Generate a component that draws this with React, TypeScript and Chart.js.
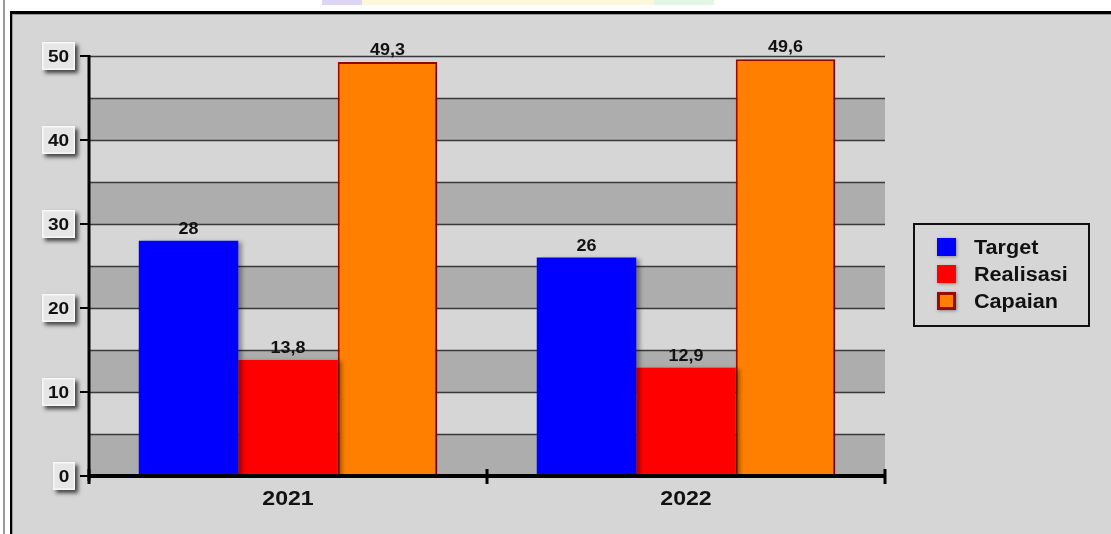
import React, { useEffect, useRef } from "react";
import { Chart, registerables } from "chart.js";

Chart.register(...registerables);

// Yearly figures per indicator
const categories = ["2021", "2022"];
const targetValues = [28, 26];
const realisasiValues = [13.8, 12.9];
const capaianValues = [49.3, 49.6];
const seriesLabels = ["Target", "Realisasi", "Capaian"];
const yTickValues = [0, 10, 20, 30, 40, 50];
const yMin = 0;
const yMax = 50;

const FONT = "'Liberation Sans', Arial, sans-serif";
const PANEL = "#d6d6d6";
const BAND = "#adadad";

const fmt = (v: number) => String(v).replace(".", ",");

// Draws text widened horizontally by `stretch`, anchored at (x, y) with the given alignment.
function wideText(
  ctx: CanvasRenderingContext2D,
  text: string,
  x: number,
  y: number,
  stretch: number,
  align: CanvasTextAlign
) {
  ctx.save();
  ctx.translate(x, y);
  ctx.scale(stretch, 1);
  ctx.textAlign = align;
  ctx.fillText(text, 0, 0);
  ctx.restore();
}

const decorPlugin = {
  id: "decor",
  beforeDatasetsDraw(chart: any) {
    const { ctx, chartArea, scales } = chart;
    const y = scales.y;
    ctx.save();
    // alternating horizontal bands every 5 units
    for (let v = yMin; v < yMax; v += 10) {
      const top = y.getPixelForValue(v + 5);
      const bottom = y.getPixelForValue(v);
      ctx.fillStyle = BAND;
      ctx.fillRect(chartArea.left, top, chartArea.right - chartArea.left, bottom - top);
    }
    // grid lines
    ctx.strokeStyle = "#3a3a3a";
    ctx.lineWidth = 1.5;
    for (let v = yMin + 5; v <= yMax; v += 5) {
      const py = Math.round(y.getPixelForValue(v)) + 0.5;
      ctx.beginPath();
      ctx.moveTo(chartArea.left, py);
      ctx.lineTo(chartArea.right, py);
      ctx.stroke();
    }
    ctx.restore();
  },
  beforeDatasetDraw(chart: any) {
    const ctx = chart.ctx;
    ctx.save();
    ctx.shadowColor = "rgba(0,0,0,0.35)";
    ctx.shadowBlur = 4;
    ctx.shadowOffsetX = 4;
    ctx.shadowOffsetY = 1;
  },
  afterDatasetDraw(chart: any) {
    chart.ctx.restore();
  },
  afterDatasetsDraw(chart: any) {
    const { ctx, chartArea, scales } = chart;
    const x = scales.x;
    const y = scales.y;
    ctx.save();

    // value labels above bars
    ctx.fillStyle = "#111";
    ctx.font = `bold 16px ${FONT}`;
    ctx.textBaseline = "alphabetic";
    chart.data.datasets.forEach((ds: any, i: number) => {
      const meta = chart.getDatasetMeta(i);
      meta.data.forEach((bar: any, j: number) => {
        wideText(ctx, fmt(ds.data[j]), bar.x, bar.y - 7, 1.12, "center");
      });
    });

    // vertical axis
    const y0 = y.getPixelForValue(yMin);
    const yTop = y.getPixelForValue(yMax);
    ctx.strokeStyle = "#000";
    ctx.lineWidth = 3;
    ctx.beginPath();
    ctx.moveTo(chartArea.left, yTop - 1);
    ctx.lineTo(chartArea.left, y0 + 5);
    ctx.stroke();

    // y ticks and boxed labels
    ctx.font = `bold 17px ${FONT}`;
    ctx.textBaseline = "middle";
    yTickValues.forEach((v) => {
      const py = y.getPixelForValue(v);
      ctx.lineWidth = 2;
      ctx.strokeStyle = "#000";
      ctx.beginPath();
      ctx.moveTo(chartArea.left - 9, py);
      ctx.lineTo(chartArea.left, py);
      ctx.stroke();

      const label = String(v);
      const w = label.length > 1 ? 33 : 22;
      const h = 28;
      const bx = chartArea.left - 14 - w;
      const by = py - h / 2;
      ctx.save();
      ctx.shadowColor = "rgba(0,0,0,0.7)";
      ctx.shadowBlur = 4;
      ctx.shadowOffsetX = 3;
      ctx.shadowOffsetY = 3;
      ctx.fillStyle = "#e6e6e6";
      ctx.fillRect(bx, by, w, h);
      ctx.restore();
      ctx.strokeStyle = "#f8f8f8";
      ctx.lineWidth = 1.5;
      ctx.strokeRect(bx + 0.75, by + 0.75, w - 1.5, h - 1.5);
      ctx.fillStyle = "#111";
      wideText(ctx, label, bx + w / 2, py + 1, 1.12, "center");
    });

    // horizontal axis
    ctx.strokeStyle = "#000";
    ctx.lineWidth = 4;
    ctx.beginPath();
    ctx.moveTo(chartArea.left, y0);
    ctx.lineTo(chartArea.right, y0);
    ctx.stroke();
    const n = categories.length;
    const step = (chartArea.right - chartArea.left) / n;
    ctx.lineWidth = 3;
    for (let k = 0; k <= n; k++) {
      const px = chartArea.left + step * k;
      ctx.beginPath();
      ctx.moveTo(px, y0 - 7);
      ctx.lineTo(px, y0 + 8);
      ctx.stroke();
    }
    ctx.font = `bold 21px ${FONT}`;
    ctx.fillStyle = "#111";
    ctx.textBaseline = "middle";
    categories.forEach((c, k) => {
      wideText(ctx, c, x.getPixelForValue(k), y0 + 23, 1.1, "center");
    });

    // legend
    const lx = 913;
    const ly = 223;
    const lw = 177;
    const lh = 104;
    ctx.fillStyle = PANEL;
    ctx.fillRect(lx, ly, lw, lh);
    ctx.strokeStyle = "#111";
    ctx.lineWidth = 2;
    ctx.strokeRect(lx + 1, ly + 1, lw - 2, lh - 2);
    ctx.font = `bold 20px ${FONT}`;
    ctx.textBaseline = "middle";
    chart.data.datasets.forEach((ds: any, i: number) => {
      const cy = ly + 24 + i * 27;
      ctx.save();
      ctx.shadowColor = "rgba(0,0,0,0.35)";
      ctx.shadowBlur = 3;
      ctx.shadowOffsetX = 1;
      ctx.shadowOffsetY = 1;
      ctx.fillStyle = ds.borderWidth ? ds.borderColor : ds.backgroundColor;
      ctx.fillRect(937, cy - 9, 19, 18);
      ctx.restore();
      if (ds.borderWidth) {
        ctx.fillStyle = ds.backgroundColor;
        ctx.fillRect(940, cy - 6, 13, 12);
      }
      ctx.fillStyle = "#111";
      wideText(ctx, ds.label, 974, cy + 1, 1.08, "left");
    });

    ctx.restore();
  },
};

export default function App() {
  const canvasRef = useRef<HTMLCanvasElement | null>(null);

  useEffect(() => {
    const canvas = canvasRef.current;
    if (!canvas) return;
    const chart = new Chart(canvas, {
      type: "bar",
      data: {
        labels: categories,
        datasets: [
          {
            label: seriesLabels[0],
            data: targetValues,
            backgroundColor: "#0000ff",
            borderWidth: 0,
          },
          {
            label: seriesLabels[1],
            data: realisasiValues,
            backgroundColor: "#ff0000",
            borderWidth: 0,
          },
          {
            label: seriesLabels[2],
            data: capaianValues,
            backgroundColor: "#ff8000",
            borderColor: "#9a0a00",
            borderWidth: 2,
          },
        ],
      },
      options: {
        responsive: false,
        animation: false,
        devicePixelRatio: 1,
        layout: { padding: { left: 89, top: 56, right: 226, bottom: 58 } },
        datasets: { bar: { barPercentage: 1, categoryPercentage: 0.75 } },
        plugins: { legend: { display: false }, tooltip: { enabled: false }, title: { display: false } },
        scales: {
          x: { type: "category", display: false, offset: true },
          y: { display: false, min: yMin, max: yMax },
        },
      },
      plugins: [decorPlugin],
    });
    return () => chart.destroy();
  }, []);

  return (
    <div
      style={{
        position: "fixed",
        left: 0,
        top: 0,
        width: 1111,
        height: 534,
        background: "#fff",
        overflow: "hidden",
      }}
    >
      {/* faint highlight strip left from the heading above the panel */}
      <div style={{ position: "absolute", left: 322, top: 0, width: 40, height: 5, background: "#dcd6f4" }} />
      <div style={{ position: "absolute", left: 362, top: 0, width: 292, height: 5, background: "#fbf8dc" }} />
      <div style={{ position: "absolute", left: 654, top: 0, width: 60, height: 5, background: "#e2f6e4" }} />
      <div style={{ position: "absolute", left: 3, top: 0, width: 2, height: 534, background: "#9a9a9a" }} />
      <div
        style={{
          position: "absolute",
          left: 10,
          top: 11,
          right: 0,
          bottom: 0,
          background: PANEL,
          borderTop: "3px solid #000",
          borderLeft: "2px solid #000",
          boxShadow: "inset 1px 1px 0 #9a9a9a",
        }}
      />
      <canvas
        ref={canvasRef}
        width={1111}
        height={534}
        style={{ position: "absolute", left: 0, top: 0, width: 1111, height: 534 }}
      />
    </div>
  );
}
